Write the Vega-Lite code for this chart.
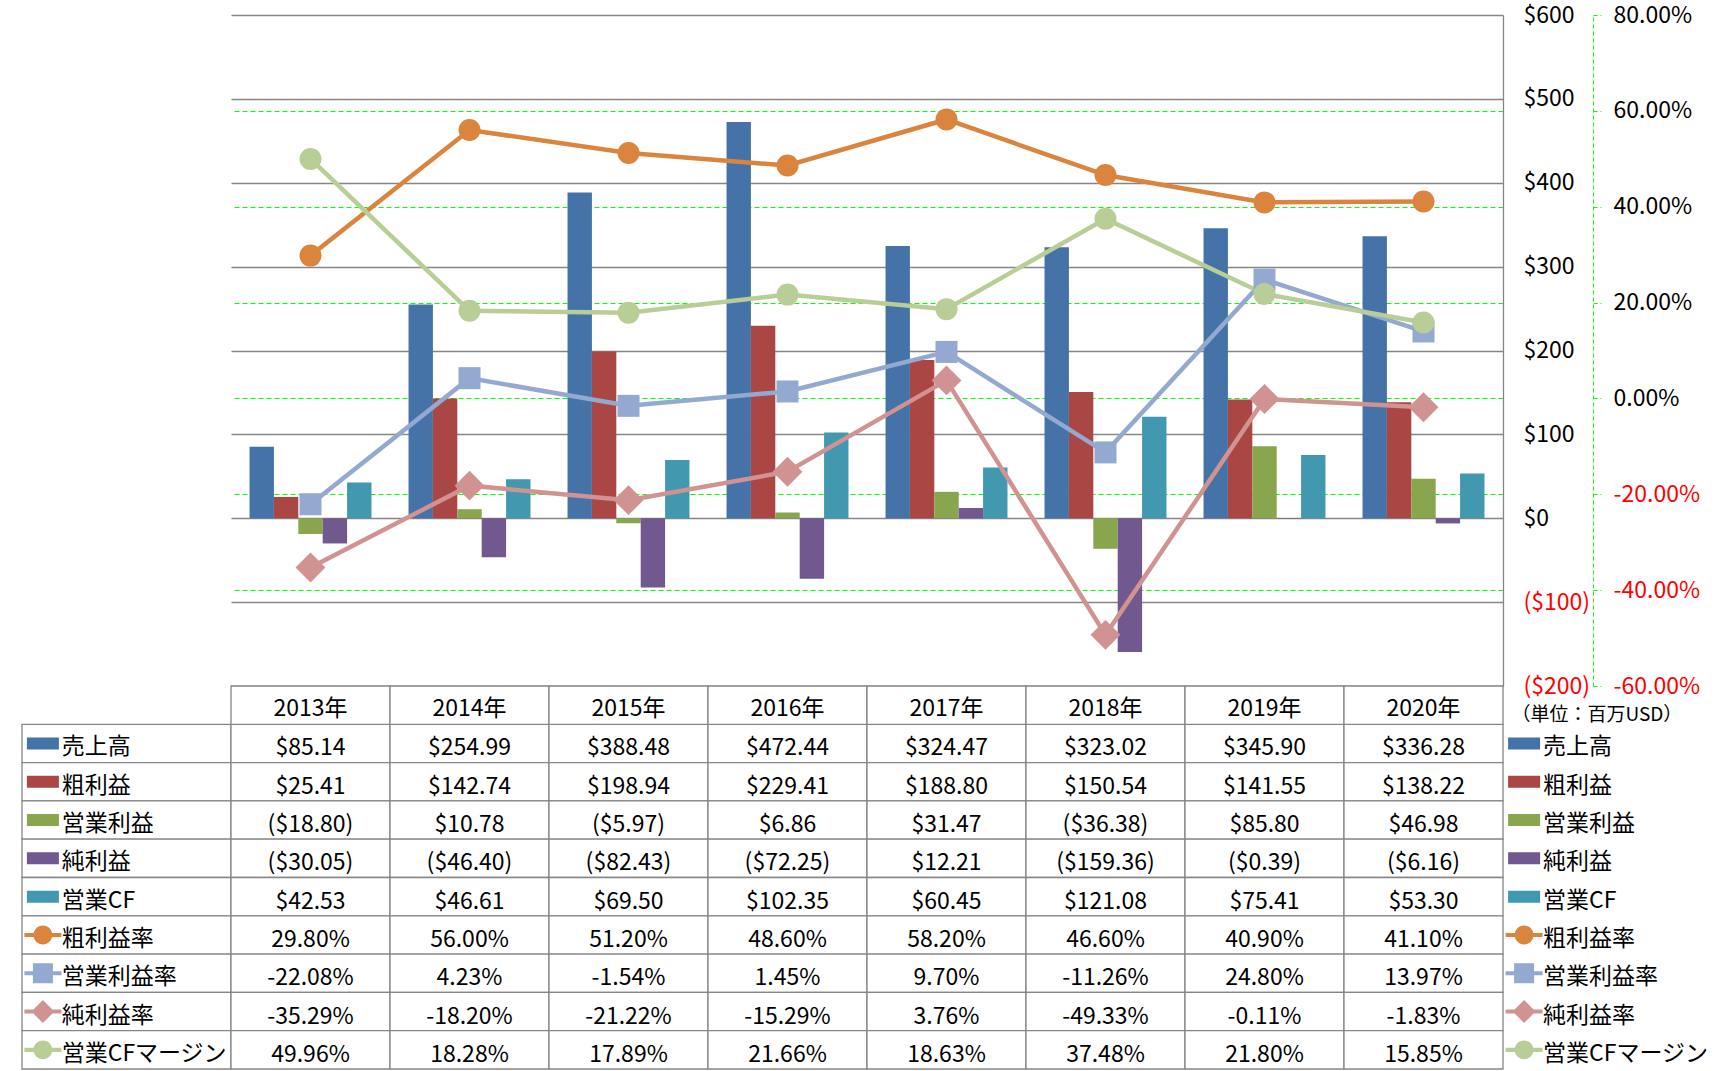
{
  "$schema": "https://vega.github.io/schema/vega-lite/v6.json",
  "background": "white",
  "padding": {"left": 21, "top": 4, "right": 0, "bottom": 0},
  "config": {
    "view": {"stroke": null},
    "font": "Noto Sans CJK JP",
    "locale": {"number": {"decimal": ".", "thousands": ",", "grouping": [3], "currency": ["$", ""], "minus": "-"}}
  },
  "datasets": {
    "money": [
      {"year": "2013年", "series": "売上高", "value": 85.14},
      {"year": "2014年", "series": "売上高", "value": 254.99},
      {"year": "2015年", "series": "売上高", "value": 388.48},
      {"year": "2016年", "series": "売上高", "value": 472.44},
      {"year": "2017年", "series": "売上高", "value": 324.47},
      {"year": "2018年", "series": "売上高", "value": 323.02},
      {"year": "2019年", "series": "売上高", "value": 345.90},
      {"year": "2020年", "series": "売上高", "value": 336.28},
      {"year": "2013年", "series": "粗利益", "value": 25.41},
      {"year": "2014年", "series": "粗利益", "value": 142.74},
      {"year": "2015年", "series": "粗利益", "value": 198.94},
      {"year": "2016年", "series": "粗利益", "value": 229.41},
      {"year": "2017年", "series": "粗利益", "value": 188.80},
      {"year": "2018年", "series": "粗利益", "value": 150.54},
      {"year": "2019年", "series": "粗利益", "value": 141.55},
      {"year": "2020年", "series": "粗利益", "value": 138.22},
      {"year": "2013年", "series": "営業利益", "value": -18.80},
      {"year": "2014年", "series": "営業利益", "value": 10.78},
      {"year": "2015年", "series": "営業利益", "value": -5.97},
      {"year": "2016年", "series": "営業利益", "value": 6.86},
      {"year": "2017年", "series": "営業利益", "value": 31.47},
      {"year": "2018年", "series": "営業利益", "value": -36.38},
      {"year": "2019年", "series": "営業利益", "value": 85.80},
      {"year": "2020年", "series": "営業利益", "value": 46.98},
      {"year": "2013年", "series": "純利益", "value": -30.05},
      {"year": "2014年", "series": "純利益", "value": -46.40},
      {"year": "2015年", "series": "純利益", "value": -82.43},
      {"year": "2016年", "series": "純利益", "value": -72.25},
      {"year": "2017年", "series": "純利益", "value": 12.21},
      {"year": "2018年", "series": "純利益", "value": -159.36},
      {"year": "2019年", "series": "純利益", "value": -0.39},
      {"year": "2020年", "series": "純利益", "value": -6.16},
      {"year": "2013年", "series": "営業CF", "value": 42.53},
      {"year": "2014年", "series": "営業CF", "value": 46.61},
      {"year": "2015年", "series": "営業CF", "value": 69.50},
      {"year": "2016年", "series": "営業CF", "value": 102.35},
      {"year": "2017年", "series": "営業CF", "value": 60.45},
      {"year": "2018年", "series": "営業CF", "value": 121.08},
      {"year": "2019年", "series": "営業CF", "value": 75.41},
      {"year": "2020年", "series": "営業CF", "value": 53.30}
    ],
    "ratio": [
      {"year": "2013年", "series": "粗利益率", "value": 0.298},
      {"year": "2014年", "series": "粗利益率", "value": 0.56},
      {"year": "2015年", "series": "粗利益率", "value": 0.512},
      {"year": "2016年", "series": "粗利益率", "value": 0.486},
      {"year": "2017年", "series": "粗利益率", "value": 0.582},
      {"year": "2018年", "series": "粗利益率", "value": 0.466},
      {"year": "2019年", "series": "粗利益率", "value": 0.409},
      {"year": "2020年", "series": "粗利益率", "value": 0.411},
      {"year": "2013年", "series": "営業利益率", "value": -0.2208},
      {"year": "2014年", "series": "営業利益率", "value": 0.0423},
      {"year": "2015年", "series": "営業利益率", "value": -0.0154},
      {"year": "2016年", "series": "営業利益率", "value": 0.0145},
      {"year": "2017年", "series": "営業利益率", "value": 0.097},
      {"year": "2018年", "series": "営業利益率", "value": -0.1126},
      {"year": "2019年", "series": "営業利益率", "value": 0.248},
      {"year": "2020年", "series": "営業利益率", "value": 0.1397},
      {"year": "2013年", "series": "純利益率", "value": -0.3529},
      {"year": "2014年", "series": "純利益率", "value": -0.182},
      {"year": "2015年", "series": "純利益率", "value": -0.2122},
      {"year": "2016年", "series": "純利益率", "value": -0.1529},
      {"year": "2017年", "series": "純利益率", "value": 0.0376},
      {"year": "2018年", "series": "純利益率", "value": -0.4933},
      {"year": "2019年", "series": "純利益率", "value": -0.0011},
      {"year": "2020年", "series": "純利益率", "value": -0.0183},
      {"year": "2013年", "series": "営業CFマージン", "value": 0.4996},
      {"year": "2014年", "series": "営業CFマージン", "value": 0.1828},
      {"year": "2015年", "series": "営業CFマージン", "value": 0.1789},
      {"year": "2016年", "series": "営業CFマージン", "value": 0.2166},
      {"year": "2017年", "series": "営業CFマージン", "value": 0.1863},
      {"year": "2018年", "series": "営業CFマージン", "value": 0.3748},
      {"year": "2019年", "series": "営業CFマージン", "value": 0.218},
      {"year": "2020年", "series": "営業CFマージン", "value": 0.1585}
    ],
    "items": [
      {"series": "売上高"}, {"series": "粗利益"}, {"series": "営業利益"}, {"series": "純利益"}, {"series": "営業CF"},
      {"series": "粗利益率"}, {"series": "営業利益率"}, {"series": "純利益率"}, {"series": "営業CFマージン"}
    ]
  },
  "columns": 3,
  "spacing": 0,
  "bounds": "flush",
  "align": "each",
  "resolve": {"scale": {"color": "independent", "shape": "independent", "x": "independent", "y": "independent", "size": "independent"}},
  "concat": [
    {
      "width": 209, "height": 671,
      "data": {"values": [{"a": 0}]},
      "mark": {"type": "point", "opacity": 0},
      "encoding": {}
    },
    {
      "width": 1272, "height": 671,
      "layer": [
        {
          "data": {"name": "money"},
          "mark": {"type": "bar"},
          "encoding": {
            "x": {"field": "year", "type": "nominal", "scale": {"domain": ["2013年","2014年","2015年","2016年","2017年","2018年","2019年","2020年"], "paddingInner": 0.233, "paddingOuter": 0.1165}, "axis": null},
            "xOffset": {"field": "series", "type": "nominal", "scale": {"domain": ["売上高","粗利益","営業利益","純利益","営業CF"], "paddingInner": 0, "paddingOuter": 0}},
            "y": {"field": "value", "type": "quantitative", "scale": {"domain": [-200, 600], "nice": false, "zero": false},
              "axis": {"orient": "right", "values": [-200,-100,0,100,200,300,400,500,600], "format": "($d", "domain": true, "domainColor": "#868686", "domainWidth": 1.3, "ticks": false, "tickSize": 0, "labelPadding": 20, "labelFontSize": 23, "labelFont": "Noto Sans CJK JP", "labelColor": {"condition": {"test": "datum.value < 0", "value": "#FF0000"}, "value": "#000000"}, "grid": true, "gridColor": "#868686", "gridWidth": 1.3, "title": null}},
            "color": {"field": "series", "type": "nominal", "scale": {"domain": ["売上高","粗利益","営業利益","純利益","営業CF","粗利益率","営業利益率","純利益率","営業CFマージン"], "range": ["#4572A7","#AA4643","#89A54E","#71588F","#4198AF","#DB843D","#93A9CF","#D19392","#B9CD96"]}, "legend": null}
          }
        },
        {
          "data": {"name": "ratio"},
          "encoding": {
            "x": {"field": "year", "type": "nominal", "axis": null},
            "y": {"field": "value", "type": "quantitative", "scale": {"domain": [-0.6, 0.8], "nice": false, "zero": false},
              "axis": {"orient": "right", "offset": 90, "values": [-0.6,-0.4,-0.2,0,0.2,0.4,0.6,0.8], "format": ".2%", "domain": true, "domainColor": "#00FF00", "domainDash": [4,3], "domainWidth": 1, "ticks": true, "tickColor": "#00FF00", "tickSize": 8, "tickDash": [4,3], "labelPadding": 12, "labelFontSize": 23, "labelFont": "Noto Sans CJK JP", "labelColor": {"condition": {"test": "datum.value < 0", "value": "#FF0000"}, "value": "#000000"}, "grid": true, "gridColor": "#00FF00", "gridDash": [5,3], "gridWidth": 1, "gridOpacity": {"condition": {"test": "datum.value > 0.79 || datum.value < -0.59", "value": 0}, "value": 1}, "title": null}},
            "color": {"field": "series", "type": "nominal", "scale": {"domain": ["売上高","粗利益","営業利益","純利益","営業CF","粗利益率","営業利益率","純利益率","営業CFマージン"], "range": ["#4572A7","#AA4643","#89A54E","#71588F","#4198AF","#DB843D","#93A9CF","#D19392","#B9CD96"]}, "legend": null}
          },
          "layer": [
            {"mark": {"type": "line", "strokeWidth": 4.5}},
            {"mark": {"type": "point", "filled": true, "opacity": 1, "size": 484, "strokeWidth": 0},
             "encoding": {"shape": {"field": "series", "type": "nominal", "scale": {"domain": ["粗利益率","営業利益率","純利益率","営業CFマージン"], "range": ["circle", "square", "M0,-1.36L1.36,0L0,1.36L-1.36,0Z", "circle"]}, "legend": null}}}
          ]
        }
      ],
      "resolve": {"scale": {"y": "independent"}}
    },
    {
      "width": 211, "height": 671,
      "data": {"values": [{"a": 0}]},
      "mark": {"type": "point", "opacity": 0},
      "encoding": {}
    },
    {
      "width": 209, "height": 383,
      "data": {"name": "items"},
      "encoding": {
        "y": {"field": "series", "type": "nominal", "scale": {"domain": ["header","売上高","粗利益","営業利益","純利益","営業CF","粗利益率","営業利益率","純利益率","営業CFマージン"], "paddingInner": 0, "paddingOuter": 0}, "axis": null}
      },
      "layer": [
        {"mark": {"type": "rect", "fill": "white", "stroke": "#868686", "strokeWidth": 1.3},
         "encoding": {"x": {"datum": 0, "type": "quantitative", "scale": {"domain": [0, 10]}, "axis": null}, "x2": {"datum": 10}}},
        {"mark": {"type": "point", "filled": true, "opacity": 1, "size": 1369, "strokeWidth": 0},
         "encoding": {
           "x": {"datum": 1, "type": "quantitative", "scale": {"domain": [0, 10]}, "axis": null},
           "color": {"field": "series", "type": "nominal", "scale": {"domain": ["売上高","粗利益","営業利益","純利益","営業CF","粗利益率","営業利益率","純利益率","営業CFマージン"], "range": ["#4572A7","#AA4643","#89A54E","#71588F","#4198AF","#DB843D","#93A9CF","#D19392","#B9CD96"]}, "legend": null},
           "shape": {"field": "series", "type": "nominal", "scale": {"domain": ["売上高","粗利益","営業利益","純利益","営業CF","粗利益率","営業利益率","純利益率","営業CFマージン"], "range": ["M-0.865,-0.324H0.865V0.324H-0.865Z","M-0.865,-0.324H0.865V0.324H-0.865Z","M-0.865,-0.324H0.865V0.324H-0.865Z","M-0.865,-0.324H0.865V0.324H-0.865Z","M-0.865,-0.324H0.865V0.324H-0.865Z","M-1,-0.11H1V0.11H-1Z M-0.51,0A0.51,0.51 0 1 1 0.51,0A0.51,0.51 0 1 1 -0.51,0Z","M-1,-0.11H1V0.11H-1Z M-0.54,-0.54H0.54V0.54H-0.54Z","M-1,-0.11H1V0.11H-1Z M0,-0.62L0.62,0L0,0.62L-0.62,0Z","M-1,-0.11H1V0.11H-1Z M-0.51,0A0.51,0.51 0 1 1 0.51,0A0.51,0.51 0 1 1 -0.51,0Z"]}, "legend": null}
         }},
        {"mark": {"type": "text", "align": "left", "baseline": "middle", "fontSize": 23, "dy": 4, "color": "#000000"},
         "encoding": {"x": {"datum": 1.9, "type": "quantitative", "scale": {"domain": [0, 10]}, "axis": null}, "text": {"field": "series"}}}
      ]
    },
    {
      "width": 1272, "height": 383,
      "encoding": {
        "x": {"field": "year", "type": "nominal", "scale": {"domain": ["2013年","2014年","2015年","2016年","2017年","2018年","2019年","2020年"], "paddingInner": 0, "paddingOuter": 0}, "axis": null},
        "y": {"field": "series", "type": "nominal", "scale": {"domain": ["header","売上高","粗利益","営業利益","純利益","営業CF","粗利益率","営業利益率","純利益率","営業CFマージン"], "paddingInner": 0, "paddingOuter": 0}, "axis": null}
      },
      "layer": [
        {"data": {"name": "money"}, "mark": {"type": "rect", "fill": "white", "stroke": "#868686", "strokeWidth": 1.3}},
        {"data": {"name": "ratio"}, "mark": {"type": "rect", "fill": "white", "stroke": "#868686", "strokeWidth": 1.3}},
        {"data": {"name": "money"}, "transform": [{"aggregate": [{"op": "count", "as": "n"}], "groupby": ["year"]}],
         "mark": {"type": "rect", "fill": "white", "stroke": "#868686", "strokeWidth": 1.3},
         "encoding": {"y": {"datum": "header", "type": "nominal"}}},
        {"data": {"name": "money"}, "transform": [{"aggregate": [{"op": "count", "as": "n"}], "groupby": ["year"]}],
         "mark": {"type": "text", "fontSize": 23, "baseline": "middle", "dy": 4, "color": "#000000"},
         "encoding": {"y": {"datum": "header", "type": "nominal"}, "text": {"field": "year"}}},
        {"data": {"name": "money"}, "mark": {"type": "text", "fontSize": 23, "baseline": "middle", "dy": 5, "color": "#000000"},
         "encoding": {"text": {"field": "value", "type": "quantitative", "format": "($.2f"}}},
        {"data": {"name": "ratio"}, "mark": {"type": "text", "fontSize": 23, "baseline": "middle", "dy": 5, "color": "#000000"},
         "encoding": {"text": {"field": "value", "type": "quantitative", "format": ".2%"}}}
      ]
    },
    {
      "width": 211, "height": 383,
      "data": {"name": "items"},
      "encoding": {
        "y": {"field": "series", "type": "nominal", "scale": {"domain": ["header","売上高","粗利益","営業利益","純利益","営業CF","粗利益率","営業利益率","純利益率","営業CFマージン"], "paddingInner": 0, "paddingOuter": 0}, "axis": null}
      },
      "layer": [
        {"mark": {"type": "point", "filled": true, "opacity": 1, "size": 1369, "strokeWidth": 0},
         "encoding": {
           "x": {"datum": 1, "type": "quantitative", "scale": {"domain": [0, 10]}, "axis": null},
           "color": {"field": "series", "type": "nominal", "scale": {"domain": ["売上高","粗利益","営業利益","純利益","営業CF","粗利益率","営業利益率","純利益率","営業CFマージン"], "range": ["#4572A7","#AA4643","#89A54E","#71588F","#4198AF","#DB843D","#93A9CF","#D19392","#B9CD96"]}, "legend": null},
           "shape": {"field": "series", "type": "nominal", "scale": {"domain": ["売上高","粗利益","営業利益","純利益","営業CF","粗利益率","営業利益率","純利益率","営業CFマージン"], "range": ["M-0.865,-0.324H0.865V0.324H-0.865Z","M-0.865,-0.324H0.865V0.324H-0.865Z","M-0.865,-0.324H0.865V0.324H-0.865Z","M-0.865,-0.324H0.865V0.324H-0.865Z","M-0.865,-0.324H0.865V0.324H-0.865Z","M-1,-0.11H1V0.11H-1Z M-0.51,0A0.51,0.51 0 1 1 0.51,0A0.51,0.51 0 1 1 -0.51,0Z","M-1,-0.11H1V0.11H-1Z M-0.54,-0.54H0.54V0.54H-0.54Z","M-1,-0.11H1V0.11H-1Z M0,-0.62L0.62,0L0,0.62L-0.62,0Z","M-1,-0.11H1V0.11H-1Z M-0.51,0A0.51,0.51 0 1 1 0.51,0A0.51,0.51 0 1 1 -0.51,0Z"]}, "legend": null}
         }},
        {"mark": {"type": "text", "align": "left", "baseline": "middle", "fontSize": 23, "dy": 4, "color": "#000000"},
         "encoding": {"x": {"datum": 1.9, "type": "quantitative", "scale": {"domain": [0, 10]}, "axis": null}, "text": {"field": "series"}}},
        {"data": {"values": [{"label": "（単位：百万USD）"}]},
         "mark": {"type": "text", "align": "left", "baseline": "middle", "fontSize": 19, "dy": 10, "color": "#000000"},
         "encoding": {"x": {"datum": 0.4, "type": "quantitative", "scale": {"domain": [0, 10]}, "axis": null}, "y": {"datum": "header", "type": "nominal"}, "text": {"field": "label"}}}
      ]
    }
  ]
}
